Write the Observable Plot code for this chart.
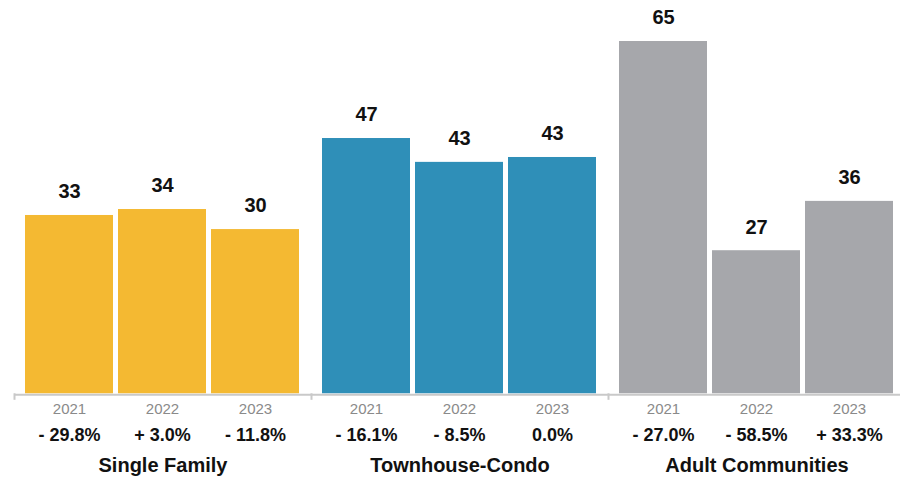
<!DOCTYPE html>
<html>
<head>
<meta charset="utf-8">
<script src="https://cdn.jsdelivr.net/npm/d3@7"></script>
<script src="https://cdn.jsdelivr.net/npm/@observablehq/plot@0.6"></script>
<style>
  html, body { margin: 0; padding: 0; background: #fff; }
  #chart { width: 900px; height: 480px; overflow: hidden; }
</style>
</head>
<body>
<div id="chart"></div>
<script>
const groups = ["Single Family", "Townhouse-Condo", "Adult Communities"];
const years = ["2021", "2022", "2023"];
const colors = ["#F4B932", "#2F8FB8", "#A6A7AB"];

// bar heights
const singleFamily = [32.9, 34.0, 30.3];
const townhouseCondo = [47.1, 42.7, 43.6];
const adultCommunities = [65, 26.4, 35.5];

// value labels as printed
const singleFamilyLabels = ["33", "34", "30"];
const townhouseCondoLabels = ["47", "43", "43"];
const adultCommunitiesLabels = ["65", "27", "36"];

// year-over-year change labels
const singleFamilyChange = ["- 29.8%", "+ 3.0%", "- 11.8%"];
const townhouseCondoChange = ["- 16.1%", "- 8.5%", "0.0%"];
const adultCommunitiesChange = ["- 27.0%", "- 58.5%", "+ 33.3%"];

const seriesValues = [singleFamily, townhouseCondo, adultCommunities];
const seriesLabels = [singleFamilyLabels, townhouseCondoLabels, adultCommunitiesLabels];
const seriesChange = [singleFamilyChange, townhouseCondoChange, adultCommunitiesChange];

const rows = groups.flatMap((g, gi) => years.map((y, yi) => ({
  group: g, year: y, value: seriesValues[gi][yi],
  label: seriesLabels[gi][yi], change: seriesChange[gi][yi]
})));

const font = "'Liberation Sans', Arial, Helvetica, sans-serif";

const chart = Plot.plot({
  width: 900,
  height: 480,
  marginLeft: 13,
  marginRight: -5.5,
  marginTop: 41,
  marginBottom: 86.7,
  style: { fontFamily: font, background: "#fff", overflow: "visible" },
  fx: { axis: null, domain: groups, padding: 0 },
  x: { axis: null, domain: years, paddingInner: 0.053, paddingOuter: 0.109 },
  y: { axis: null, domain: [0, 65] },
  color: { domain: groups, range: colors },
  marks: [
    Plot.barY(rows, { fx: "group", x: "year", y: "value", fill: "group" }),
    Plot.ruleY([0], { stroke: "#c9c9c9", strokeWidth: 2, dy: 1 }),
    Plot.ruleX(groups, { fx: d => d, x: () => years[0], y1: 0, y2: -1.2, dx: -55, stroke: "#c9c9c9", strokeWidth: 2 }),
    Plot.text(rows, { fx: "group", x: "year", y: "value", text: "label", dy: -23.5, fontSize: 20, fontWeight: "bold", fill: "#111" }),
    Plot.text(rows, { fx: "group", x: "year", y: () => 0, text: "year", dy: 15, fontSize: 15, fill: "#8a8a8a" }),
    Plot.text(rows, { fx: "group", x: "year", y: () => 0, text: "change", dy: 41.5, fontSize: 18, fontWeight: "bold", fill: "#111" }),
    Plot.text(groups, { fx: d => d, frameAnchor: "bottom", lineAnchor: "middle", text: d => d, dy: 71.5, fontSize: 20, fontWeight: "bold", fill: "#111" })
  ]
});
document.getElementById("chart").appendChild(chart);
</script>
</body>
</html>
